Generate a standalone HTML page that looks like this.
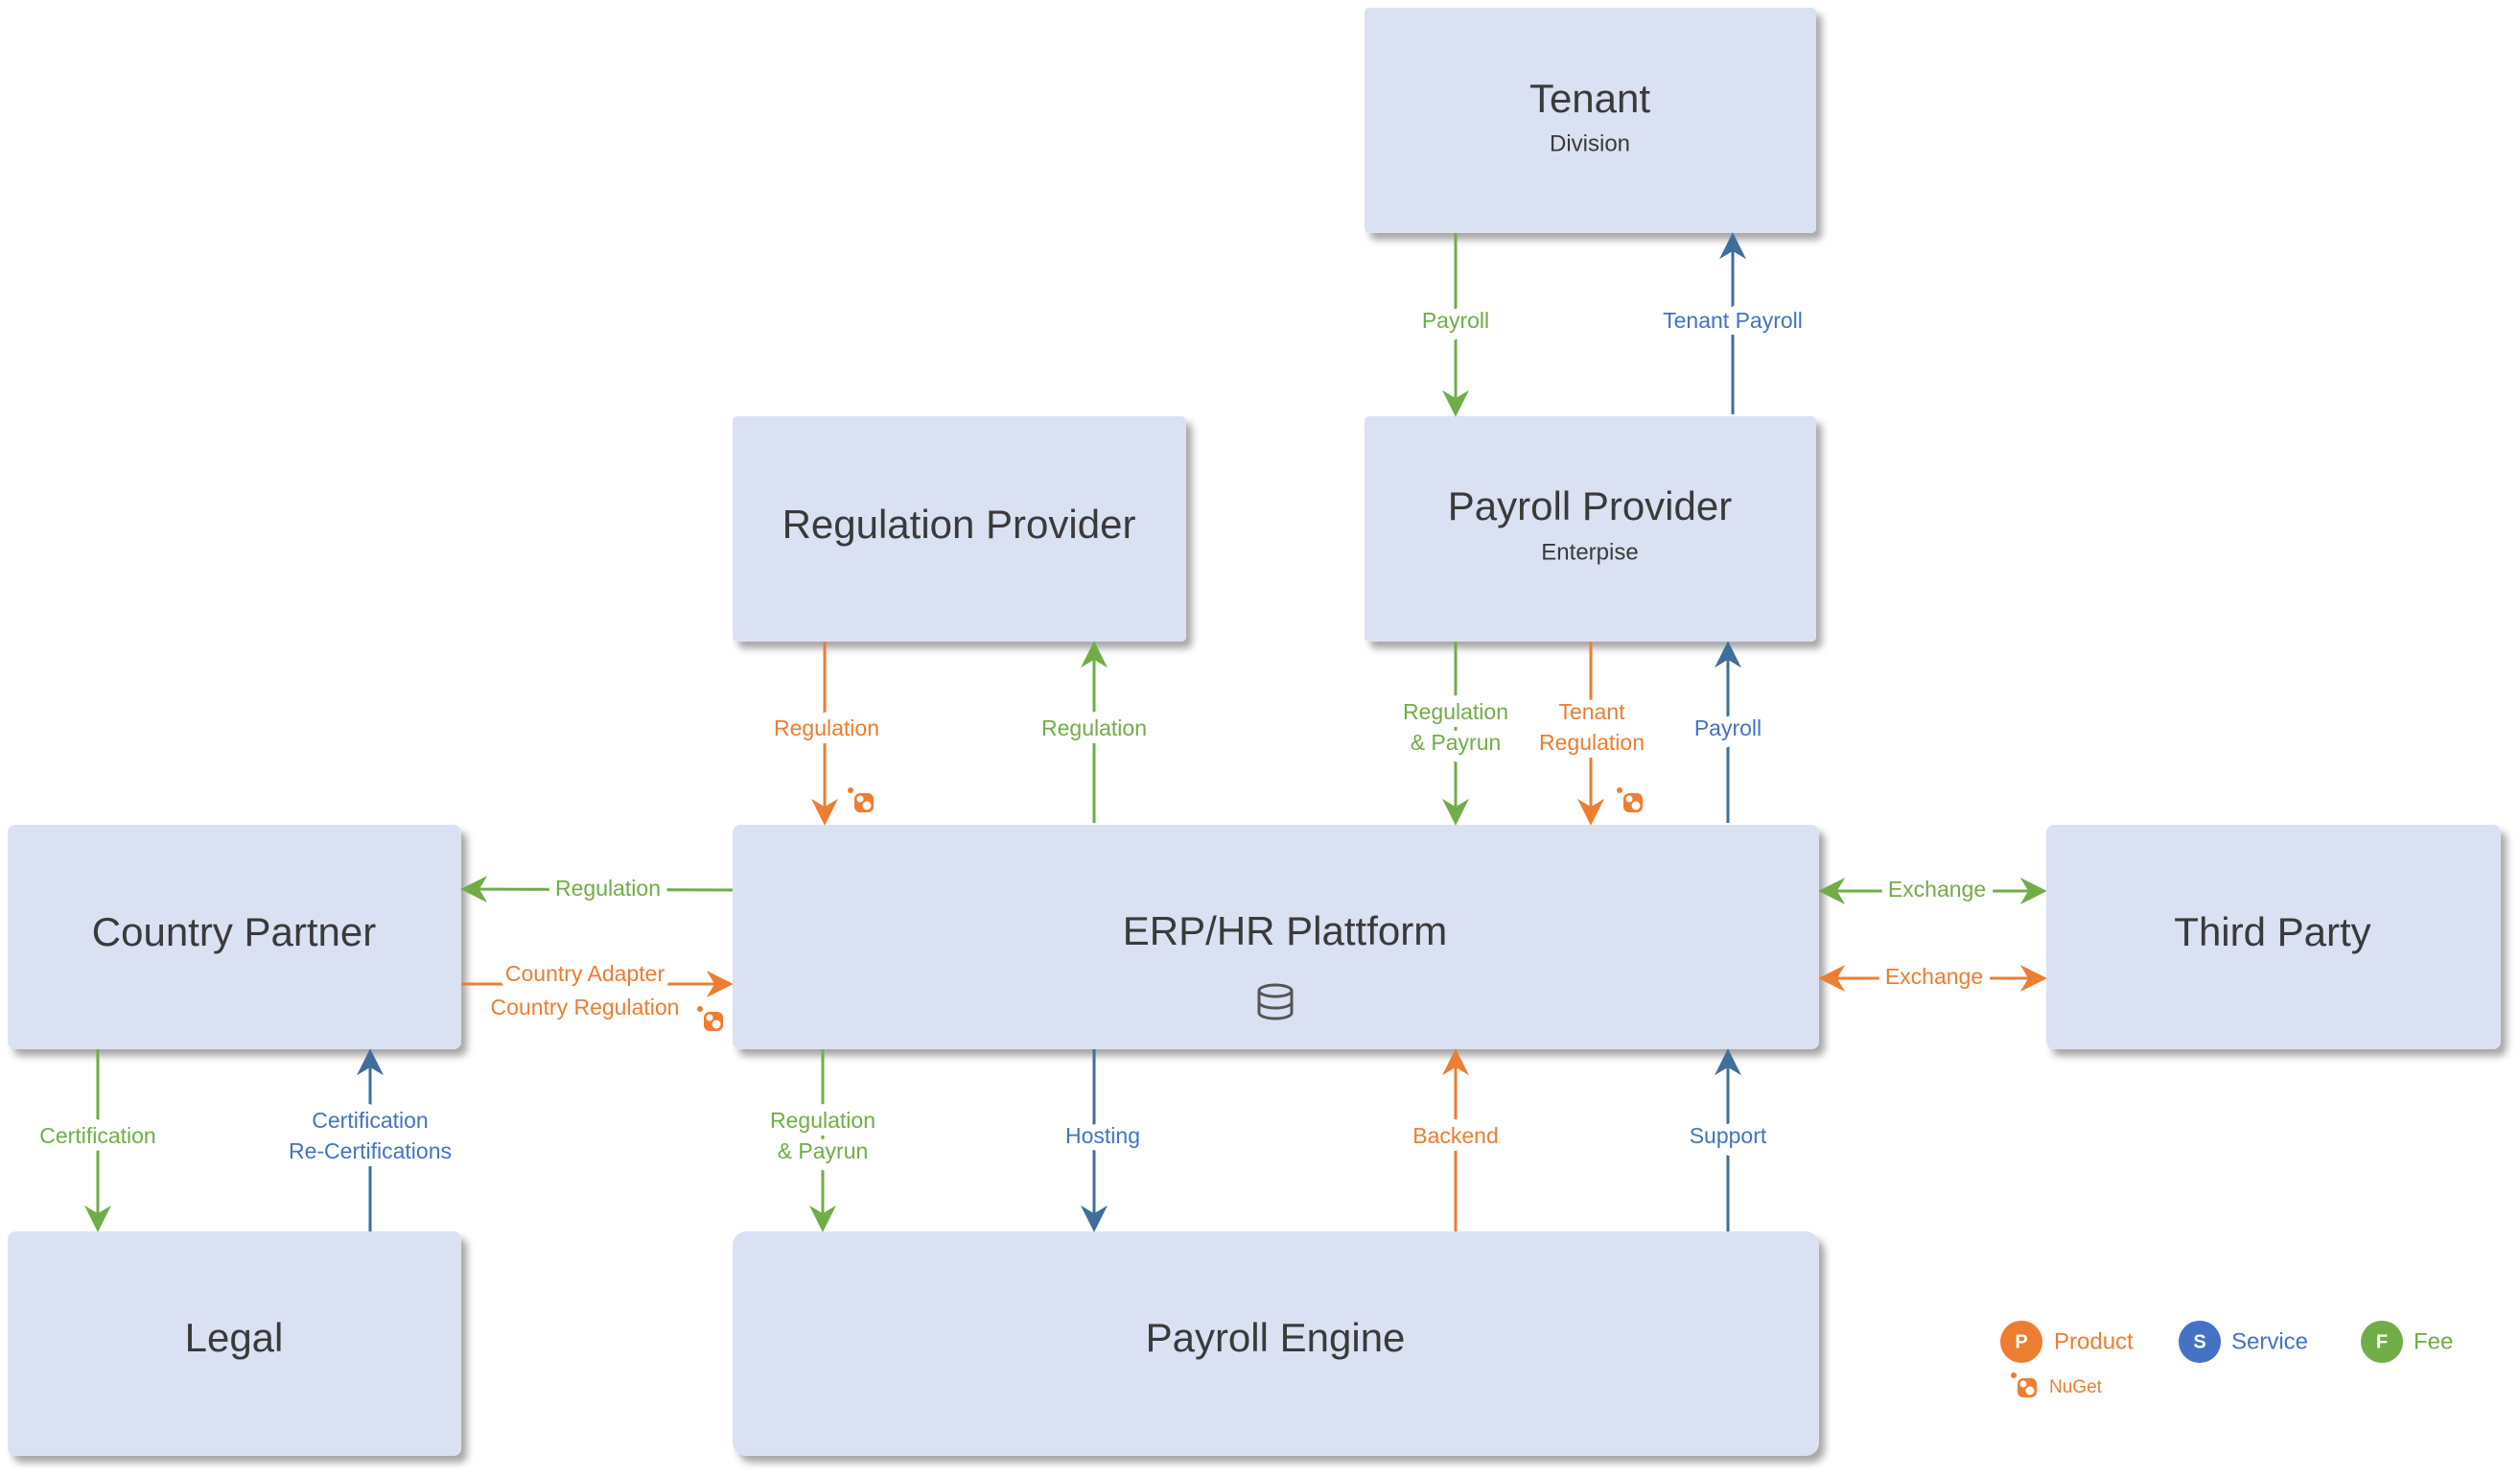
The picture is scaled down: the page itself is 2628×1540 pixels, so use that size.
<!DOCTYPE html>
<html><head><meta charset="utf-8"><style>
html,body{margin:0;padding:0;background:#fff}
svg{display:block}
text{font-family:"Liberation Sans Narrow","Liberation Sans",sans-serif;text-anchor:middle;dominant-baseline:middle}
.t{font-size:42px;fill:#3a3a3a}
.s{font-size:24px;fill:#3a3a3a}
.l{font-size:23px;stroke:#fff;stroke-width:16px;paint-order:stroke;stroke-linejoin:round}
.g{fill:#70AD47}.o{fill:#ED7D31}.b{fill:#4472C4}
</style></head><body>
<svg width="2628" height="1540" viewBox="0 0 2628 1540" xmlns="http://www.w3.org/2000/svg">
<defs>
<filter id="sh" x="-5%" y="-5%" width="115%" height="120%"><feDropShadow dx="6" dy="7" stdDeviation="4" flood-color="#000" flood-opacity="0.35"/></filter>
<marker id="ag" markerWidth="28" markerHeight="28" refX="9" refY="5" orient="auto" markerUnits="userSpaceOnUse" viewBox="0 0 10 10"><path d="M0,0 L10,5 L0,10 L3,5 Z" fill="#70AD47"/></marker>
<marker id="ao" markerWidth="28" markerHeight="28" refX="9" refY="5" orient="auto" markerUnits="userSpaceOnUse" viewBox="0 0 10 10"><path d="M0,0 L10,5 L0,10 L3,5 Z" fill="#ED7D31"/></marker>
<marker id="ab" markerWidth="28" markerHeight="28" refX="9" refY="5" orient="auto" markerUnits="userSpaceOnUse" viewBox="0 0 10 10"><path d="M0,0 L10,5 L0,10 L3,5 Z" fill="#3F6E9A"/></marker>
<g id="nu"><circle cx="-13" cy="-12" r="3" fill="#ED7D31"/><rect x="-9" y="-9" width="20" height="20" rx="6" fill="#ED7D31"/><circle cx="-3" cy="-3" r="3.5" fill="#fff"/><circle cx="4" cy="4" r="4.5" fill="#fff"/></g>
</defs>
<style>
.cg{stroke:#70AD47;stroke-width:3;fill:none}
.co{stroke:#ED7D31;stroke-width:3;fill:none}
.cb{stroke:#3F6E9A;stroke-width:3;fill:none}
</style>
<g fill="#DAE1F2" filter="url(#sh)">
<rect x="1423" y="8" width="471" height="235" rx="5"/>
<rect x="764" y="434" width="473" height="235" rx="5"/>
<rect x="1423" y="434" width="471" height="235" rx="5"/>
<rect x="8" y="860" width="473" height="234" rx="8"/>
<rect x="764" y="860" width="1133" height="234" rx="8"/>
<rect x="2134" y="860" width="474" height="234" rx="8"/>
<rect x="8" y="1284" width="473" height="234" rx="8"/>
<rect x="764" y="1284" width="1133" height="234" rx="14"/>
</g>
<text class="t" x="1658" y="106">Tenant</text><text class="s" x="1658" y="151">Division</text>
<text class="t" x="1000" y="550">Regulation Provider</text>
<text class="t" x="1658" y="531">Payroll Provider</text><text class="s" x="1658" y="577">Enterpise</text>
<text class="t" x="244" y="975">Country Partner</text>
<text class="t" x="1340" y="974">ERP/HR Plattform</text>
<text class="t" x="2370" y="975">Third Party</text>
<text class="t" x="244" y="1398">Legal</text>
<text class="t" x="1330" y="1398">Payroll Engine</text>
<g fill="none" stroke="#555" stroke-width="3"><ellipse cx="1330" cy="1033" rx="17" ry="6"/><path d="M1313,1033 V1056 A17,6 0 0 0 1347,1056 V1033 M1313,1045 A17,6 0 0 0 1347,1045"/></g>
<line class="cg" x1="1518" y1="243" x2="1518" y2="432" marker-end="url(#ag)"/>
<line class="cb" x1="1807" y1="432" x2="1807" y2="245" marker-end="url(#ab)"/>
<line class="co" x1="860" y1="669" x2="860" y2="858" marker-end="url(#ao)"/>
<line class="cg" x1="1141" y1="858" x2="1141" y2="671" marker-end="url(#ag)"/>
<line class="cg" x1="1518" y1="669" x2="1518" y2="858" marker-end="url(#ag)"/>
<line class="co" x1="1659" y1="669" x2="1659" y2="858" marker-end="url(#ao)"/>
<line class="cb" x1="1802" y1="858" x2="1802" y2="671" marker-end="url(#ab)"/>
<line class="cg" x1="764" y1="928" x2="483" y2="927" marker-end="url(#ag)"/>
<line class="co" x1="481" y1="1026" x2="762" y2="1026" marker-end="url(#ao)"/>
<line class="cg" x1="2020" y1="929" x2="1899" y2="929" marker-end="url(#ag)"/>
<line class="cg" x1="2020" y1="929" x2="2132" y2="929" marker-end="url(#ag)"/>
<line class="co" x1="2020" y1="1020" x2="1899" y2="1020" marker-end="url(#ao)"/>
<line class="co" x1="2020" y1="1020" x2="2132" y2="1020" marker-end="url(#ao)"/>
<line class="cg" x1="102" y1="1094" x2="102" y2="1282" marker-end="url(#ag)"/>
<line class="cb" x1="386" y1="1284" x2="386" y2="1096" marker-end="url(#ab)"/>
<line class="cg" x1="858" y1="1094" x2="858" y2="1282" marker-end="url(#ag)"/>
<line class="cb" x1="1141" y1="1094" x2="1141" y2="1282" marker-end="url(#ab)"/>
<line class="co" x1="1518" y1="1284" x2="1518" y2="1096" marker-end="url(#ao)"/>
<line class="cb" x1="1802" y1="1284" x2="1802" y2="1096" marker-end="url(#ab)"/>
<text class="l g" x="1518" y="336">Payroll</text>
<text class="l b" x="1807" y="336">Tenant Payroll</text>
<text class="l o" x="862" y="761">Regulation</text>
<text class="l g" x="1141" y="761">Regulation</text>
<text class="l g" x="1518" y="744">Regulation</text><text class="l g" x="1518" y="776">&amp; Payrun</text>
<text class="l o" x="1660" y="744">Tenant</text><text class="l o" x="1660" y="776">Regulation</text>
<text class="l b" x="1802" y="761">Payroll</text>
<text class="l g" x="634" y="928">Regulation</text>
<text class="l o" x="610" y="1017">Country Adapter</text><text class="l o" x="610" y="1052">Country Regulation</text>
<text class="l g" x="2020" y="929">Exchange</text>
<text class="l o" x="2017" y="1020">Exchange</text>
<text class="l g" x="102" y="1186">Certification</text>
<text class="l b" x="386" y="1170">Certification</text><text class="l b" x="386" y="1202">Re-Certifications</text>
<text class="l g" x="858" y="1170">Regulation</text><text class="l g" x="858" y="1202">&amp; Payrun</text>
<text class="l b" x="1150" y="1186">Hosting</text>
<text class="l o" x="1518" y="1186">Backend</text>
<text class="l b" x="1802" y="1186">Support</text>
<use href="#nu" x="900" y="836"/>
<use href="#nu" x="1702" y="836"/>
<use href="#nu" x="743" y="1064"/>
<circle cx="2108" cy="1399" r="22" fill="#ED7D31"/><text x="2108" y="1400" style="font-size:20px;fill:#fff;font-weight:bold">P</text>
<text x="2142" y="1400" style="font-size:24px;fill:#ED7D31;text-anchor:start">Product</text>
<circle cx="2294" cy="1399" r="22" fill="#4472C4"/><text x="2294" y="1400" style="font-size:20px;fill:#fff;font-weight:bold">S</text>
<text x="2327" y="1400" style="font-size:24px;fill:#4472C4;text-anchor:start">Service</text>
<circle cx="2484" cy="1399" r="22" fill="#70AD47"/><text x="2484" y="1400" style="font-size:20px;fill:#fff;font-weight:bold">F</text>
<text x="2517" y="1400" style="font-size:24px;fill:#70AD47;text-anchor:start">Fee</text>
<use href="#nu" x="2113" y="1446"/>
<text x="2137" y="1447" style="font-size:19px;fill:#ED7D31;text-anchor:start">NuGet</text>
</svg>
</body></html>
